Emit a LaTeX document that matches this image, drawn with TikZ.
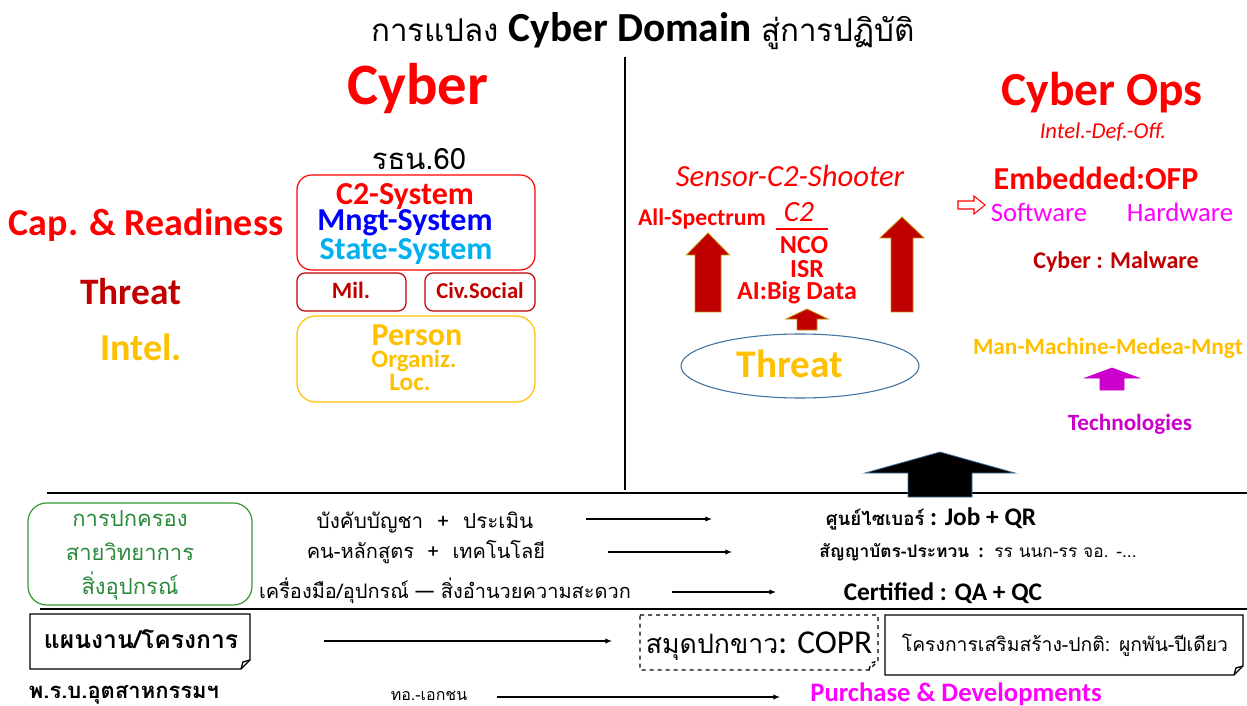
\documentclass[tikz,border=0pt]{standalone}
\usepackage{fontspec}
\setmainfont{Carlito}
\newfontfamily\thai[Script=Thai]{Loma}
\usetikzlibrary{arrows.meta,shapes.geometric}
\definecolor{cred}{HTML}{FF0000}
\definecolor{dred}{HTML}{C00000}
\definecolor{gold}{HTML}{FFC000}
\definecolor{cblue}{HTML}{0000FF}
\definecolor{ccyan}{HTML}{00B0F0}
\definecolor{cmag}{HTML}{FF00FF}
\definecolor{cpur}{HTML}{CC00CC}
\definecolor{cgreen}{HTML}{339933}
\definecolor{tgreen}{HTML}{2A8A3A}
\definecolor{ellb}{HTML}{41719C}
\definecolor{arrb}{HTML}{BF9000}
\newcommand\fsz[1]{\fontsize{#1}{#1}\selectfont}
\newcommand\uparr[7]{\draw[#1] ({#2-#4},{#3+#5}) -- (#2,#3) -- ({#2+#4},{#3+#5}) -- ({#2+#6},{#3+#5}) -- ({#2+#6},#7) -- ({#2-#6},#7) -- ({#2-#6},{#3+#5}) -- cycle;}
\newcommand\foldbox[5]{\draw[#1] (#2,#3) -- (#4,#3) -- (#4,{#5-9}) -- ({#4-9},#5) -- (#2,#5) -- cycle;
  \draw[#1] ({#4-9},#5) -- ({#4-7},{#5-7}) -- (#4,{#5-9});}
\begin{document}
\begin{tikzpicture}[x=0.75pt,y=-0.75pt,
  every node/.style={inner sep=0pt,outer sep=0pt},
  lbl/.style={anchor=base},
  rbox/.style={draw,rounded corners=#1,line width=0.9pt},
  darr/.style={draw=arrb,fill=dred,line width=0.6pt},
  conn/.style={-{Latex[length=5pt,width=4pt]},line width=0.8pt},
  sep/.style={line width=1.4pt}]
\useasboundingbox[fill=white] (0,0) rectangle (1247,706);

% title
\node[lbl,font=\fsz{31pt}] (title) at (643,42) {{\thai\fsz{23.5pt}การแปลง} \textbf{Cyber Domain} {\thai\fsz{23.5pt}สู่การปฏิบัติ}};

% separators
\draw[line width=1.2pt] (625,57) -- (625,490);
\draw[sep] (47,493) -- (1247,493);
\draw[sep] (40,609) -- (1247,609);

% left part
\node[lbl,text=cred,font=\bfseries\fsz{44pt}] (cyber) at (418,105) {Cyber};
\node[lbl,font=\thai\fsz{22pt}] (rtn) at (419,170) {รธน.60};
\draw[rbox=11pt,draw=cred] (297,175) rectangle (535,270);
\node[lbl,text=cred,font=\bfseries\fsz{24pt}] (c2s) at (405,205) {C2-System};
\node[lbl,text=cblue,font=\bfseries\fsz{24pt}] (mngt) at (405,231) {Mngt-System};
\node[lbl,text=ccyan,font=\bfseries\fsz{24pt}] (state) at (406,260) {State-System};
\node[lbl,text=cred,font=\bfseries\fsz{28.5pt}] (cap) at (146,236) {Cap. \& Readiness};
\draw[rbox=6pt,draw=dred] (297,273) rectangle (406,311);
\draw[rbox=6pt,draw=dred] (425,273) rectangle (535,311);
\node[lbl,text=dred,font=\bfseries\fsz{17.5pt}] (mil) at (351,298) {Mil.};
\node[lbl,text=dred,font=\bfseries\fsz{17pt}] (civ) at (480,298) {Civ.Social};
\node[lbl,text=dred,font=\bfseries\fsz{28pt}] (threatL) at (131,305) {Threat};
\node[lbl,text=gold,font=\bfseries\fsz{28.5pt}] (intel) at (141,360) {Intel.};
\draw[rbox=14pt,draw=gold] (297,316) rectangle (535,402);
\node[lbl,text=gold,font=\bfseries\fsz{24pt}] (person) at (417,345) {Person};
\node[lbl,text=gold,font=\bfseries\fsz{18.7pt}] (org) at (414,367) {Organiz.};
\node[lbl,text=gold,font=\bfseries\fsz{19pt}] (loc) at (410,390) {Loc.};

% middle-right part
\node[lbl,text=cred,font=\itshape\fsz{23pt}] (s2s) at (790,187) {Sensor-C2-Shooter};
\node[lbl,text=cred,font=\bfseries\fsz{17.8pt}] (allsp) at (702,226) {All-Spectrum};
\node[lbl,text=cred,font=\itshape\fsz{22pt}] (c2) at (799,222) {C2};
\draw[cred,line width=2pt] (776,229) -- (828,229);
\node[lbl,text=cred,font=\bfseries\fsz{19.5pt}] (nco) at (804,254) {NCO};
\node[lbl,text=cred,font=\bfseries\fsz{19.5pt}] (isr) at (807,277) {ISR};
\node[lbl,text=cred,font=\bfseries\fsz{19.5pt}] (ai) at (797,300) {AI:Big Data};
\uparr{darr}{708}{233}{21.5}{22}{13}{312}
\uparr{darr}{902}{217}{22}{21}{11}{312}
\uparr{darr}{807}{309}{21}{10}{10}{330}
\node[draw=ellb,line width=0.8pt,ellipse,minimum width=178.5pt,minimum height=48pt,inner sep=0pt] (ell) at (800,366) {};
\node[lbl,text=gold,font=\bfseries\fsz{29.4pt}] (threatR) at (790,378) {Threat};

\node[lbl,text=cred,font=\bfseries\fsz{35.6pt}] (ops) at (1102,106) {Cyber Ops};
\node[lbl,text=cred,font=\itshape\fsz{17pt}] (idf) at (1103,139) {Intel.-Def.-Off.};
\node[lbl,text=cred,font=\bfseries\fsz{24pt}] (emb) at (1096,190) {Embedded:OFP};
\draw[cred,fill=white,line width=0.8pt] (958,201) -- (974,201) -- (974,196) -- (985,205) -- (974,214) -- (974,209) -- (958,209) -- cycle;
\node[lbl,text=cmag,font=\fsz{20pt}] (sw) at (1039,222) {Software};
\node[lbl,text=cmag,font=\fsz{20pt}] (hw) at (1180,222) {Hardware};
\node[lbl,text=dred,font=\bfseries\fsz{18pt}] (mal) at (1116,268) {Cyber : Malware};
\node[lbl,text=gold,font=\bfseries\fsz{17.5pt}] (mmm) at (1108,354) {Man-Machine-Medea-Mngt};
\uparr{draw=cpur,fill=cpur,line width=0.5pt}{1112}{368}{27}{10}{12}{390}
\node[lbl,text=cpur,font=\bfseries\fsz{17.4pt}] (tech) at (1130,430) {Technologies};
\uparr{draw=ellb,fill=black,line width=0.6pt}{940}{452}{75}{21}{32}{497}

% bottom rows
\draw[rbox=14pt,draw=cgreen] (28,503) rectangle (252,605);
\node[lbl,text=tgreen,font=\thai\fsz{16.5pt}] (g1) at (130,526) {การปกครอง};
\node[lbl,text=tgreen,font=\thai\fsz{16.5pt}] (g2) at (130,560) {สายวิทยาการ};
\node[lbl,text=tgreen,font=\thai\fsz{16.5pt}] (g3) at (130,594) {สิ่งอุปกรณ์};
\node[lbl,font=\thai\fsz{15.5pt}] (r1) at (425,528) {บังคับบัญชา \ + \ ประเมิน};
\node[lbl,font=\thai\fsz{15pt}] (r2) at (426,558) {คน-หลักสูตร \ + \ เทคโนโลยี};
\node[lbl,font=\thai\fsz{15pt}] (r3) at (445,598) {เครื่องมือ/อุปกรณ์ — สิ่งอำนวยความสะดวก};
\coordinate (a1s) at (586,519); \coordinate (a1e) at (712,519);
\coordinate (a2s) at (608,552); \coordinate (a2e) at (732,552);
\coordinate (a3s) at (672,592); \coordinate (a3e) at (776,592);
\draw[conn] (a1s) -- (a1e);
\draw[conn] (a2s) -- (a2e);
\draw[conn] (a3s) -- (a3e);
\node[lbl,font=\bfseries\fsz{19pt}] (o1) at (931,525) {{\thai\fsz{14pt}ศูนย์ไซเบอร์} : Job + QR};
\node[lbl,font=\bfseries\fsz{15pt}] (o2) at (978,557) {{\thai\fsz{13pt}สัญญาบัตร-ประทวน} \ : \ {\thai\mdseries\fsz{13pt}รร นนก-รร จอ. -...}};
\node[lbl,font=\bfseries\fsz{19pt}] (o3) at (943,600) {Certified : QA + QC};

\foldbox{line width=1pt}{30}{614}{250}{669}
\node[lbl,font=\thai\bfseries\fsz{18.5pt}] (plan) at (141,648) {แผนงาน/โครงการ};
\foldbox{line width=1pt,dashed}{640}{615}{878}{670}
\node[lbl,font=\fsz{25pt}] (copr) at (759,653) {{\thai\fsz{20pt}สมุดปกขาว}: COPR};
\foldbox{line width=1pt}{885}{615}{1243}{675}
\node[lbl,font=\thai\fsz{14.5pt}] (proj) at (1065,651) {โครงการเสริมสร้าง-ปกติ: ผูกพัน-ปีเดียว};
\coordinate (a4s) at (324,641); \coordinate (a4e) at (612,641);
\draw[conn] (a4s) -- (a4e);
\node[lbl,font=\thai\bfseries\fsz{16.5pt}] (act) at (124,698) {พ.ร.บ.อุตสาหกรรมฯ};
\node[lbl,font=\thai\fsz{12pt}] (pv) at (429,700) {ทอ.-เอกชน};
\coordinate (a5s) at (497,697); \coordinate (a5e) at (780,697);
\draw[conn] (a5s) -- (a5e);
\node[lbl,text=cmag,font=\bfseries\fsz{20pt}] (pd) at (956,701) {Purchase \& Developments};
\end{tikzpicture}
\end{document}
